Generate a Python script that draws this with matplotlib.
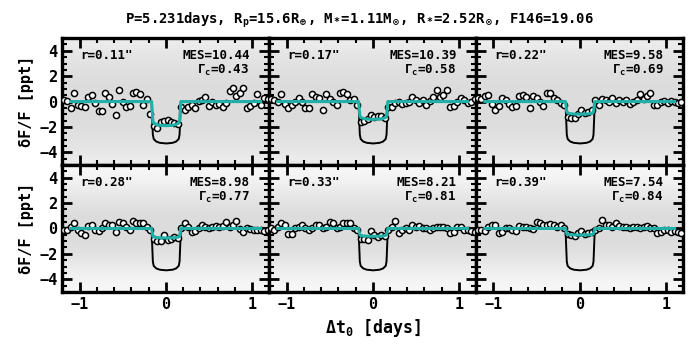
import matplotlib
matplotlib.use("Agg")
import matplotlib.pyplot as plt
import numpy as np
from matplotlib.ticker import MultipleLocator
from matplotlib.colors import LinearSegmentedColormap

plt.rcParams['font.family'] = ['DejaVu Sans Mono']
plt.rcParams['font.weight'] = 'bold'
plt.rcParams['mathtext.fontset'] = 'custom'
plt.rcParams['mathtext.rm'] = 'DejaVu Sans Mono:bold'
plt.rcParams['mathtext.it'] = 'DejaVu Sans Mono:bold'
plt.rcParams['mathtext.bf'] = 'DejaVu Sans Mono:bold'
plt.rcParams['mathtext.sf'] = 'DejaVu Sans Mono:bold'
plt.rcParams['mathtext.default'] = 'regular'

# ---------------- data ----------------
title = r"P=5.231days, R$_p$=15.6R$_\oplus$, M$_*$=1.11M$_\odot$, R$_*$=2.52R$_\odot$, F146=19.06"
radii = ['r=0.11"', 'r=0.17"', 'r=0.22"', 'r=0.28"', 'r=0.33"', 'r=0.39"']
mes = ["MES=10.44", "MES=10.39", "MES=9.58", "MES=8.98", "MES=8.21", "MES=7.54"]
gamma = ["0.43", "0.58", "0.69", "0.77", "0.81", "0.84"]

# binned light curve (open circles)
t_bin = [-1.18, -1.14, -1.10, -1.06, -1.02, -0.98, -0.94, -0.90, -0.86, -0.82,
         -0.78, -0.74, -0.70, -0.66, -0.62, -0.58, -0.54, -0.50, -0.46, -0.42,
         -0.38, -0.34, -0.30, -0.26, -0.22, -0.18, -0.14, -0.10, -0.06, -0.02,
         0.02, 0.06, 0.10, 0.14, 0.18, 0.22, 0.26, 0.30, 0.34, 0.38,
         0.42, 0.46, 0.50, 0.54, 0.58, 0.62, 0.66, 0.70, 0.74, 0.78,
         0.82, 0.86, 0.90, 0.94, 0.98, 1.02, 1.06, 1.10, 1.14, 1.18]

f_bin_1 = [0.10, 0.05, -0.50, 0.70, -0.30, -0.35, -0.40, 0.35, 0.50, -0.15,
           -0.75, -0.75, 0.70, 0.40, -0.20, -1.05, 0.90, 0.00, -0.40, -0.35,
           0.70, 0.75, 0.60, -0.25, 0.20, -1.00, -1.90, -2.10, -1.60, -1.50,
           -1.45, -1.60, -1.65, -1.80, -0.45, -0.70, -0.40, -0.30, -0.50, 0.05,
           0.10, 0.35, -0.35, 0.00, -0.25, -0.20, -0.40, -0.10, 0.85, 1.05,
           0.45, 0.70, 1.10, -0.50, -0.35, -0.15, 0.60, -0.25, 0.30, 0.20]
f_bin_2 = [0.20, 0.10, 0.00, 0.60, -0.20, -0.50, -0.25, 0.00, 0.30, 0.00,
           -0.50, -0.50, 0.60, 0.35, 0.25, -0.70, 0.60, 0.20, 0.00, -0.25,
           0.70, 0.75, 0.60, 0.10, 0.20, -0.30, -1.60, -1.50, -1.40, -1.05,
           -1.20, -1.10, -1.15, -1.30, -0.40, -0.40, -0.10, 0.00, -0.20, -0.10,
           0.00, 0.35, 0.10, -0.10, 0.10, -0.25, 0.05, 0.40, 0.90, 0.35,
           0.55, 0.95, -0.40, -0.35, 0.00, 0.30, 0.10, -0.10, 0.00, 0.20]
f_bin_3 = [0.30, 0.20, 0.45, 0.55, -0.20, -0.65, -0.35, 0.30, 0.10, -0.20,
           -0.40, -0.35, 0.45, 0.50, 0.40, -0.50, 0.45, 0.30, 0.00, -0.35,
           0.70, 0.65, 0.30, 0.15, -0.10, -0.30, -1.25, -1.30, -1.30, -0.95,
           -0.70, -0.90, -0.80, -0.70, 0.10, -0.30, 0.20, 0.10, 0.00, 0.30,
           -0.10, 0.15, 0.00, 0.10, -0.20, 0.00, 0.10, 0.60, 0.20, 0.45,
           0.70, -0.30, -0.25, 0.00, 0.05, -0.10, 0.05, 0.00, -0.10, 0.00]
f_bin_4 = [-0.10, -0.15, 0.15, 0.40, -0.10, -0.35, -0.55, 0.20, 0.25, -0.10,
           -0.20, 0.05, 0.40, 0.30, 0.25, -0.30, 0.50, 0.40, 0.10, -0.15,
           0.55, 0.45, 0.40, 0.40, 0.10, -0.10, -0.85, -0.95, -1.00, -0.50,
           -0.90, -0.80, -0.70, -0.75, 0.05, 0.45, 0.15, -0.30, -0.20, 0.00,
           0.25, 0.15, 0.05, 0.15, 0.20, 0.15, 0.20, 0.50, 0.15, 0.30,
           0.55, -0.05, -0.30, 0.00, -0.05, -0.10, -0.15, -0.10, -0.20, -0.15]
f_bin_5 = [0.00, -0.10, 0.10, 0.40, 0.30, -0.45, -0.40, 0.00, 0.10, 0.25,
           0.00, -0.10, 0.00, 0.25, 0.25, 0.05, 0.10, 0.50, 0.45, 0.00,
           0.10, 0.40, 0.40, 0.40, 0.00, -0.10, -0.80, -0.85, -0.90, -0.20,
           -0.50, -0.65, -0.55, -0.60, -0.10, 0.10, 0.55, -0.35, -0.10, 0.05,
           -0.10, 0.30, 0.15, 0.20, 0.00, 0.05, -0.10, 0.05, 0.10, 0.15,
           0.15, 0.05, -0.35, -0.30, 0.10, 0.15, -0.15, -0.10, -0.20, -0.30]
f_bin_6 = [-0.10, -0.10, -0.20, 0.15, 0.30, 0.25, -0.35, -0.30, 0.00, 0.05,
           -0.10, -0.20, 0.20, 0.15, 0.10, 0.00, -0.05, 0.50, 0.45, 0.25,
           0.25, 0.35, 0.30, 0.10, 0.25, 0.00, -0.40, -0.55, -0.60, -0.35,
           -0.20, -0.45, -0.35, -0.30, -0.10, 0.00, 0.65, 0.25, 0.25, 0.10,
           0.45, 0.20, 0.15, 0.15, 0.05, 0.10, 0.10, 0.05, 0.15, 0.20,
           0.00, 0.00, -0.35, -0.30, -0.10, -0.15, -0.25, -0.20, -0.30, -0.35]
f_bins = [f_bin_1, f_bin_2, f_bin_3, f_bin_4, f_bin_5, f_bin_6]

# transit models
t_model = [-1.10, -0.165, -0.150, -0.140, -0.110, -0.070, 0.005,
           0.080, 0.120, 0.150, 0.160, 0.175, 1.10]
f_full = [0.0, 0.0, -2.6, -2.95, -3.15, -3.25, -3.30,
          -3.25, -3.15, -2.95, -2.6, 0.0, 0.0]
f_dil_1 = [0.0, 0.0, -1.50, -1.70, -1.80, -1.87, -1.90, -1.87, -1.80, -1.70, -1.50, 0.0, 0.0]
f_dil_2 = [0.0, 0.0, -1.10, -1.25, -1.33, -1.38, -1.40, -1.38, -1.33, -1.25, -1.10, 0.0, 0.0]
f_dil_3 = [0.0, 0.0, -0.80, -0.90, -0.95, -0.98, -1.00, -0.98, -0.95, -0.90, -0.80, 0.0, 0.0]
f_dil_4 = [0.0, 0.0, -0.60, -0.67, -0.71, -0.74, -0.75, -0.74, -0.71, -0.67, -0.60, 0.0, 0.0]
f_dil_5 = [0.0, 0.0, -0.49, -0.55, -0.59, -0.61, -0.62, -0.61, -0.59, -0.55, -0.49, 0.0, 0.0]
f_dil_6 = [0.0, 0.0, -0.41, -0.46, -0.50, -0.51, -0.52, -0.51, -0.50, -0.46, -0.41, 0.0, 0.0]
f_dils = [f_dil_1, f_dil_2, f_dil_3, f_dil_4, f_dil_5, f_dil_6]

# apparent density of the unbinned point cloud vs. flux (-5 .. 5), per row
cloud_density_top = [0.55, 0.75, 0.85, 0.95, 1.0, 1.0, 1.0, 0.95, 0.85, 0.75, 0.55]
cloud_density_bottom = [0.25, 0.4, 0.65, 0.85, 1.0, 1.0, 1.0, 0.85, 0.65, 0.4, 0.25]
cloud_densities = [cloud_density_top, cloud_density_bottom]

# ---------------- figure ----------------
fig, axes = plt.subplots(2, 3, figsize=(7, 3.5), dpi=100, sharex=True, sharey=True)
fig.subplots_adjust(left=0.089, right=0.976, top=0.891, bottom=0.166,
                    wspace=0, hspace=0)

cloud_cmap = LinearSegmentedColormap.from_list('cloud', ['#ffffff', '#dcdcdc'])
teal = '#1fb0a8'
for k, ax in enumerate(axes.flat):
    row = k // 3
    dens = np.array(cloud_densities[row])[:, None]
    ax.imshow(dens, extent=(-1.2, 1.2, -5, 5), origin='lower', aspect='auto',
              cmap=cloud_cmap, vmin=0, vmax=1, interpolation='bilinear', zorder=0)

    ax.plot(t_model, f_full, color='black', lw=1.4, zorder=2)
    ax.plot(t_bin, f_bins[k], 'o', ms=4.4, mfc='white', mec='black', mew=1.1,
            zorder=3)
    ax.plot(t_model, f_dils[k], color=teal, lw=2.2, zorder=4)

    ax.text(0.085, 0.865, radii[k], transform=ax.transAxes, fontsize=9,
            fontweight='bold', ha='left', va='center', zorder=5)
    ax.text(0.905, 0.865, mes[k], transform=ax.transAxes, fontsize=9,
            fontweight='bold', ha='right', va='center', zorder=5)
    ax.text(0.905, 0.745, r"$\Gamma_c$=" + gamma[k], transform=ax.transAxes,
            fontsize=9, fontweight='bold', ha='right', va='center', zorder=5)

    ax.set_xlim(-1.2, 1.2)
    ax.set_ylim(-5, 5)
    ax.xaxis.set_major_locator(MultipleLocator(1))
    ax.xaxis.set_minor_locator(MultipleLocator(0.2))
    ax.yaxis.set_major_locator(MultipleLocator(2))
    ax.yaxis.set_minor_locator(MultipleLocator(0.5))
    ax.tick_params(which='both', direction='in', top=True, right=True,
                   labelsize=11)
    ax.tick_params(which='major', length=7, width=2)
    ax.tick_params(which='minor', length=3.5, width=1.5)
    for s in ax.spines.values():
        s.set_linewidth(2.4)
    for lab in ax.get_xticklabels() + ax.get_yticklabels():
        lab.set_fontweight('bold')

for r in range(2):
    axes[r, 0].set_ylabel("δF/F [ppt]", fontsize=11, fontweight='bold')
axes[1, 1].set_xlabel(r"$\Delta$t$_0$ [days]", fontsize=12, fontweight='bold')

fig.text(0.514, 0.943, title, ha='center', va='center', fontsize=10,
         fontweight='bold')

fig.savefig("out.png", dpi=100)
